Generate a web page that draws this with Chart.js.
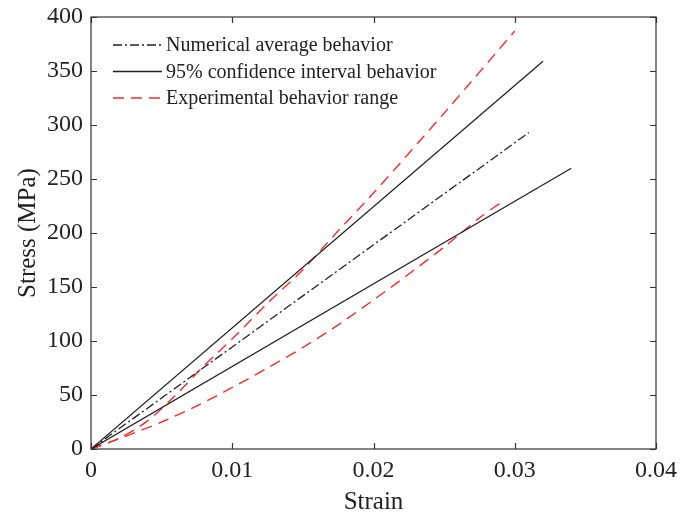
<!DOCTYPE html>
<html>
<head>
<meta charset="utf-8">
<script src="https://cdn.jsdelivr.net/npm/chart.js@4.4.0/dist/chart.umd.min.js"></script>
<style>
  html, body { margin: 0; padding: 0; background: #fff; }
  #wrap { width: 694px; height: 517px; }
</style>
</head>
<body>
<div id="wrap"><canvas id="grafica" width="694" height="517"></canvas></div>
<script>
// values
var avgStrain = [0, 0.031];
var avgStress = [0, 293];

var ciUpStrain = [0, 0.032];
var ciUpStress = [0, 359];

var ciLowStrain = [0, 0.034];
var ciLowStress = [0, 260];

var expUpStrain = [0, 0.002, 0.004, 0.006, 0.008, 0.010, 0.0125, 0.015, 0.0175, 0.020, 0.025, 0.030];
var expUpStress = [0, 10, 26, 50, 77, 102, 135, 166, 202, 237, 311, 387];

var expLowStrain = [0, 0.0025, 0.005, 0.0075, 0.010, 0.0125, 0.015, 0.0175, 0.020, 0.0225, 0.025, 0.0275, 0.029];
var expLowStress = [0, 12, 25, 40, 57, 75, 94, 115, 138, 162, 187, 214, 228];

var xTicks = [0, 0.01, 0.02, 0.03, 0.04];
var yTicks = [0, 50, 100, 150, 200, 250, 300, 350, 400];

var legendNames = ["Numerical average behavior", "95% confidence interval behavior", "Experimental behavior range"];

function pts(xs, ys) {
  var out = [];
  for (var i = 0; i < xs.length; i++) {
    out.push({x: xs[i], y: ys[i]});
  }
  return out;
}

var serif = "'Liberation Serif', 'Times New Roman', serif";
var red = '#ff2a2a';

// box + inward ticks, like the original figure
var boxTicks = {
  id: 'boxTicks',
  afterDatasetsDraw: function(chart) {
    var ctx = chart.ctx;
    var a = chart.chartArea;
    var sx = chart.scales.x, sy = chart.scales.y;
    ctx.save();
    ctx.strokeStyle = '#333';
    ctx.lineWidth = 1.2;
    ctx.setLineDash([]);
    ctx.strokeRect(a.left, a.top, a.right - a.left, a.bottom - a.top);
    ctx.beginPath();
    xTicks.forEach(function(v) {
      var p = Math.round(sx.getPixelForValue(v)) + 0.5;
      ctx.moveTo(p, a.bottom); ctx.lineTo(p, a.bottom - 6);
      ctx.moveTo(p, a.top); ctx.lineTo(p, a.top + 6);
    });
    yTicks.forEach(function(v) {
      var p = Math.round(sy.getPixelForValue(v)) + 0.5;
      ctx.moveTo(a.left, p); ctx.lineTo(a.left + 6, p);
      ctx.moveTo(a.right, p); ctx.lineTo(a.right - 6, p);
    });
    ctx.stroke();
    ctx.restore();
  }
};

// legend with dashed samples, drawn inside the plot
var lineLegend = {
  id: 'lineLegend',
  afterDraw: function(chart) {
    var ctx = chart.ctx;
    var a = chart.chartArea;
    var items = [0, 1, 3];
    ctx.save();
    ctx.font = '20px ' + serif;
    ctx.textBaseline = 'middle';
    ctx.fillStyle = '#222';
    items.forEach(function(di, i) {
      var ds = chart.data.datasets[di];
      var y = a.top + 28 + i * 26.5;
      ctx.strokeStyle = ds.borderColor;
      ctx.lineWidth = ds.borderWidth;
      ctx.setLineDash(ds.borderDash || []);
      ctx.beginPath();
      ctx.moveTo(a.left + 22, y);
      ctx.lineTo(a.left + 71, y);
      ctx.stroke();
      ctx.setLineDash([]);
      ctx.fillText(legendNames[i], a.left + 75, y + 1);
    });
    ctx.restore();
  }
};

var graph = document.getElementById("grafica");
var lineChart = new Chart(graph, {
  type: 'scatter',
  data: {
    datasets: [{
      label: legendNames[0],
      data: pts(avgStrain, avgStress),
      borderColor: '#222',
      borderWidth: 1.3,
      borderDash: [9, 3, 2, 3]
    }, {
      label: legendNames[1],
      data: pts(ciUpStrain, ciUpStress),
      borderColor: '#222',
      borderWidth: 1.3
    }, {
      label: legendNames[1],
      data: pts(ciLowStrain, ciLowStress),
      borderColor: '#222',
      borderWidth: 1.3
    }, {
      label: legendNames[2],
      data: pts(expUpStrain, expUpStress),
      borderColor: red,
      borderWidth: 1.4,
      borderDash: [11, 7],
      tension: 0.3
    }, {
      label: legendNames[2],
      data: pts(expLowStrain, expLowStress),
      borderColor: red,
      borderWidth: 1.4,
      borderDash: [11, 7],
      tension: 0.3
    }]
  },
  options: {
    responsive: false,
    animation: false,
    showLine: true,
    elements: { point: { radius: 0, hoverRadius: 0 } },
    layout: { padding: { left: 0, right: 38, top: 17, bottom: 0 } },
    plugins: {
      legend: { display: false },
      tooltip: { enabled: false }
    },
    scales: {
      x: {
        type: 'linear',
        min: 0,
        max: 0.04,
        afterFit: function(s) { s.height = 68; s.paddingLeft = 0; s.paddingRight = 0; },
        afterBuildTicks: function(s) { s.ticks = xTicks.map(function(v) { return {value: v}; }); },
        grid: { display: false, drawTicks: false },
        border: { display: false },
        ticks: {
          color: '#222',
          font: { family: serif, size: 24 },
          padding: 7,
          maxRotation: 0,
          callback: function(v) { return String(v); }
        },
        title: {
          display: true,
          text: 'Strain',
          color: '#222',
          font: { family: serif, size: 25 },
          padding: { top: 0, bottom: 0 }
        }
      },
      y: {
        type: 'linear',
        min: 0,
        max: 400,
        afterFit: function(s) { s.width = 91; s.paddingTop = 0; s.paddingBottom = 0; },
        afterBuildTicks: function(s) { s.ticks = yTicks.map(function(v) { return {value: v}; }); },
        grid: { display: false, drawTicks: false },
        border: { display: false },
        ticks: {
          color: '#222',
          font: { family: serif, size: 24 },
          padding: 8
        },
        title: {
          display: true,
          text: 'Stress (MPa)',
          color: '#222',
          font: { family: serif, size: 25 },
          padding: { top: 13, bottom: 0 }
        }
      }
    }
  },
  plugins: [boxTicks, lineLegend]
});
</script>
</body>
</html>
